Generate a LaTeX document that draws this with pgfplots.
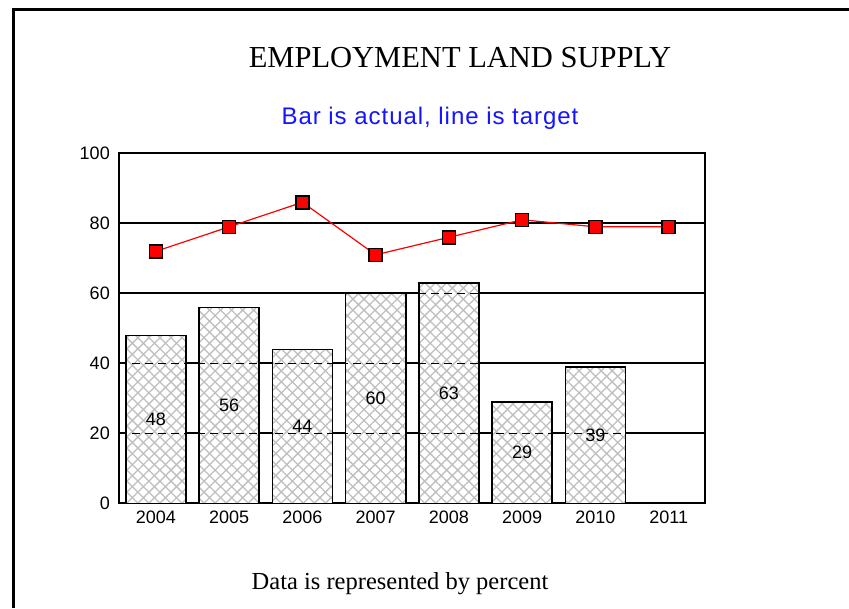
\documentclass[border=0pt]{standalone}
\usepackage{pgfplots}
\pgfplotsset{compat=1.18}
\usepackage{pgfplotstable}
\usepackage{fontspec}
\setmainfont{Liberation Serif}
\setsansfont{Liberation Sans}
\newfontfamily\subfont[LetterSpace=4]{Liberation Sans}
\usetikzlibrary{patterns.meta}

\pgfplotstableread{
x v
0 48
1 56
2 44
3 60
4 63
5 29
6 39
}\actual

\pgfplotstableread{
x t
0 72
1 79
2 86
3 71
4 76
5 81
6 79
7 79
}\target

\begin{document}
\begin{tikzpicture}[x=1pt,y=1pt]
\begin{axis}[
  at={(119.3pt,-503.3pt)}, anchor=south west,
  scale only axis, width=586pt, height=350pt,
  xmin=-0.5, xmax=7.5, ymin=0, ymax=100,
  xtick={0,1,2,3,4,5,6,7},
  xticklabels={2004,2005,2006,2007,2008,2009,2010,2011},
  ytick={0,20,40,60,80,100},
  major tick length=0pt,
  ymajorgrids, major grid style={black, line width=1.8pt},
  axis line style={black, line width=1.8pt},
  tick label style={font=\sffamily\fontsize{18}{21}\selectfont},
  /pgf/number format/assume math mode=true,
  yticklabel style={xshift=-6pt},
  xticklabel style={yshift=-4pt},
  clip=false,
]
\addplot[ybar, bar width=0.82, draw=black, line width=1.6pt, fill=white,
  postaction={pattern={Lines[angle=45,distance=7.8pt,line width=1.3pt]}, pattern color=gray!50},
  postaction={pattern={Lines[angle=-45,distance=7.8pt,line width=1.3pt]}, pattern color=gray!50}]
  table[x=x, y=v] {\actual};
\addplot[black, line width=1.6pt, dash pattern=on 8pt off 5pt, forget plot] coordinates {(-0.5,20) (7.5,20)};
\addplot[black, line width=1.6pt, dash pattern=on 8pt off 5pt, forget plot] coordinates {(-0.5,40) (7.5,40)};
\addplot[black, line width=1.6pt, dash pattern=on 8pt off 5pt, forget plot] coordinates {(-0.5,60) (7.5,60)};
\addplot[draw=none, mark=none, nodes near coords, point meta=explicit,
  every node near coord/.append style={anchor=center, font=\sffamily\fontsize{18}{21}\selectfont, text=black}]
  table[x=x, y expr=\thisrow{v}/2, meta=v] {\actual};
\addplot[red, line width=1.2pt, mark=square*, mark size=6.5pt,
  mark options={fill=red, draw=black, line width=1.5pt, solid}]
  table[x=x, y=t] {\target};
\end{axis}
\draw[black, line width=3pt] (13pt,-608pt) -- (13pt,-9pt) -- (849pt,-9pt);
\node[font=\fontsize{30.5}{36}\selectfont] at (460pt,-58pt) {EMPLOYMENT LAND SUPPLY};
\node[font=\subfont\fontsize{24}{28}\selectfont, text={rgb,255:red,20;green,20;blue,255}] at (430pt,-118pt) {Bar is actual, line is target};
\node[font=\fontsize{24.5}{28}\selectfont] at (400pt,-584pt) {Data is represented by percent};
\pgfresetboundingbox
\path[use as bounding box] (0pt,0pt) rectangle (849pt,-608pt);
\end{tikzpicture}
\end{document}
